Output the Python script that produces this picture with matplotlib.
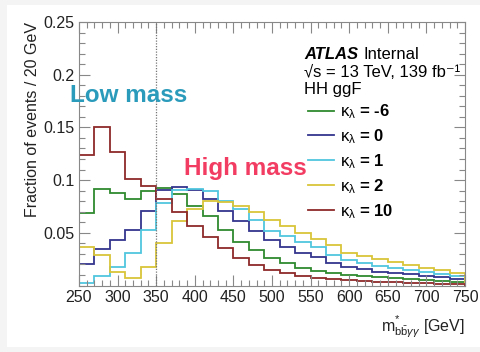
import numpy as np
import matplotlib
matplotlib.use("Agg")
import matplotlib.pyplot as plt
from matplotlib.ticker import MultipleLocator
from matplotlib.patches import Rectangle

plt.rcParams["font.family"] = ["Liberation Sans", "DejaVu Sans"]
plt.rcParams["mathtext.fontset"] = "custom"
plt.rcParams["mathtext.rm"] = "Liberation Sans"
plt.rcParams["mathtext.it"] = "Liberation Sans:italic"
plt.rcParams["mathtext.bf"] = "Liberation Sans:bold"

# m*_bbyy bin edges, 20 GeV bins from 250 to 750 GeV
bin_edges = np.arange(250, 751, 20)

# fraction of events per bin
frac_km6 = [0.0687, 0.0916, 0.0878, 0.0824, 0.0893, 0.0925, 0.0871, 0.0757, 0.0655,
            0.0528, 0.0417, 0.0338, 0.0259, 0.0211, 0.0170, 0.0140, 0.0120, 0.0100,
            0.0088, 0.0078, 0.0070, 0.0060, 0.0048, 0.0038, 0.0032]
frac_k0 = [0.0205, 0.0348, 0.0430, 0.0522, 0.0709, 0.0909, 0.0935, 0.0909, 0.0820,
           0.0703, 0.0608, 0.0513, 0.0433, 0.0370, 0.0306, 0.0268, 0.0215, 0.0180,
           0.0155, 0.0130, 0.0120, 0.0105, 0.0092, 0.0076, 0.0062]
frac_k1 = [0.0027, 0.0090, 0.0179, 0.0306, 0.0528, 0.0782, 0.0909, 0.0916, 0.0893,
           0.0800, 0.0725, 0.0624, 0.0520, 0.0470, 0.0410, 0.0363, 0.0290, 0.0243,
           0.0210, 0.0185, 0.0165, 0.0148, 0.0126, 0.0107, 0.0093]
frac_k2 = [0.0369, 0.0290, 0.0125, 0.0068, 0.0173, 0.0402, 0.0608, 0.0725, 0.0798,
           0.0790, 0.0750, 0.0694, 0.0624, 0.0560, 0.0497, 0.0440, 0.0386, 0.0313,
           0.0280, 0.0250, 0.0225, 0.0195, 0.0163, 0.0148, 0.0122]
frac_k10 = [0.1240, 0.1500, 0.1270, 0.1010, 0.0947, 0.0823, 0.0700, 0.0566, 0.0459,
            0.0354, 0.0259, 0.0195, 0.0148, 0.0116, 0.0090, 0.0075, 0.0060, 0.0050,
            0.0042, 0.0036, 0.0030, 0.0024, 0.0020, 0.0017, 0.0015]

kappa_labels = ["-6", "0", "1", "2", "10"]
series = [frac_km6, frac_k0, frac_k1, frac_k2, frac_k10]
colors = ["#2f8a2f", "#35358f", "#4fc6de", "#d9c53a", "#8f2a2a"]

mass_split = 350

W, H = 481, 352
fig = plt.figure(figsize=(W / 100, H / 100), dpi=100)
fig.patch.set_facecolor("#f4f4f4")
fig.patches.append(Rectangle((7 / W, 5 / H), 1 - 7 / W, 1 - 10 / H,
                             transform=fig.transFigure, facecolor="white",
                             edgecolor="none", zorder=-10))
ax = fig.add_axes([79 / W, 1 - 285.5 / H, 386 / W, 263.5 / H])
ax.set_zorder(5)

for vals, col, k in zip(series, colors, kappa_labels):
    ax.stairs(vals, bin_edges, color=col, lw=1.3,
              label=r"$\mathrm{\kappa}_{\mathrm{\lambda}}$" + f" = {k}")

ax.axvline(mass_split, color="#777777", ls=(0, (1, 1.2)), lw=0.9)

ax.set_xlim(250, 750)
ax.set_ylim(0, 0.25)
ax.xaxis.set_major_locator(MultipleLocator(50))
ax.xaxis.set_minor_locator(MultipleLocator(10))
ax.yaxis.set_minor_locator(MultipleLocator(0.01))
ax.set_yticks([0.05, 0.1, 0.15, 0.2, 0.25])
ax.set_yticklabels(["0.05", "0.1", "0.15", "0.2", "0.25"])
ax.tick_params(which="both", direction="in", top=True, right=True,
               color="#888888", labelsize=11.5, labelcolor="#222222")
ax.tick_params(which="major", length=8, width=0.8)
ax.tick_params(which="minor", length=4, width=0.8)
ax.tick_params(axis="x", pad=3)
for sp in ax.spines.values():
    sp.set_color("#888888")
    sp.set_linewidth(0.8)

ax.set_xlabel(r"$\mathrm{m}^{*}_{\mathrm{b\bar{b}}\gamma\gamma}$ [GeV]",
              loc="right", fontsize=11.5, color="#222222", labelpad=6)
ax.set_ylabel("Fraction of events / 20 GeV", loc="top",
              fontsize=11.5, color="#222222", labelpad=2.5)

fig.text(70 / W, 1 - 95 / H, "Low mass", color="#2b9bbb", fontsize=17.5,
         fontweight="bold", va="center", zorder=10)
fig.text(184 / W, 1 - 168 / H, "High mass", color="#f23c62", fontsize=17.5,
         fontweight="bold", va="center", zorder=10)

# ATLAS label block
ax.text(0.584, 0.876, "ATLAS", transform=ax.transAxes, fontsize=12,
        fontweight="bold", style="italic", va="center")
ax.text(0.738, 0.876, "Internal", transform=ax.transAxes, fontsize=12,
        va="center")
ax.text(0.584, 0.81, "\u221as = 13 TeV, 139 fb\u207b\u00b9",
        transform=ax.transAxes, fontsize=12, va="center")
ax.text(0.584, 0.742, "HH ggF", transform=ax.transAxes, fontsize=12,
        va="center")

leg = ax.legend(loc="upper left", bbox_to_anchor=(0.576, 0.72), frameon=False,
                fontsize=12, handlelength=1.56, handletextpad=0.36,
                labelspacing=0.37, borderaxespad=0)
for t in leg.get_texts():
    t.set_fontweight("bold")

fig.savefig("out.png", dpi=100, facecolor=fig.get_facecolor())
